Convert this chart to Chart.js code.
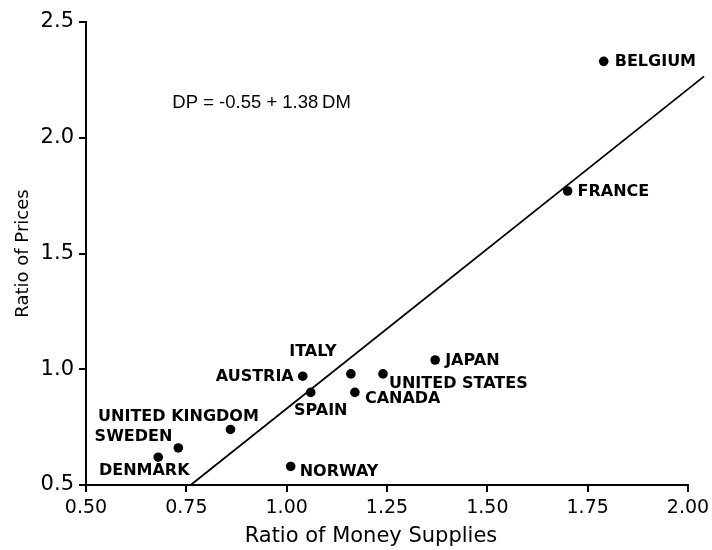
<!DOCTYPE html>
<html>
<head>
<meta charset="utf-8">
<script src="https://cdn.jsdelivr.net/npm/chart.js@4"></script>
<style>
  html, body { margin: 0; padding: 0; background: #fff; }
</style>
</head>
<body>
<canvas id="chart" width="712" height="550"></canvas>
<script>
// Values
const countries = ["BELGIUM", "FRANCE", "JAPAN", "UNITED STATES", "ITALY", "CANADA",
  "AUSTRIA", "SPAIN", "UNITED KINGDOM", "SWEDEN", "DENMARK", "NORWAY"];
const moneyRatio = [1.79, 1.70, 1.37, 1.24, 1.16, 1.17, 1.04, 1.06, 0.86, 0.73, 0.68, 1.01];
const priceRatio = [2.33, 1.77, 1.04, 0.98, 0.98, 0.90, 0.97, 0.90, 0.74, 0.66, 0.62, 0.58];

// Fitted line: DP = -0.55 + 1.38 DM
const fitIntercept = -0.55;
const fitSlope = 1.38;
const fitRange = [0.76, 2.04];

const xTicks = [0.5, 0.75, 1.0, 1.25, 1.5, 1.75, 2.0];
const yTicks = [0.5, 1.0, 1.5, 2.0, 2.5];
const xTitle = "Ratio of Money Supplies";
const yTitle = "Ratio of Prices";

// label placement next to each dot: [dx, dy, align]
const labelPos = {
  "BELGIUM": [11, 0, "left"],
  "FRANCE": [10, 1, "left"],
  "JAPAN": [10, 1, "left"],
  "UNITED STATES": [6, 10, "left"],
  "ITALY": [-38, -22, "center"],
  "CANADA": [10, 6, "left"],
  "AUSTRIA": [-9, 1, "right"],
  "SPAIN": [10, 18, "center"],
  "UNITED KINGDOM": [-52, -13, "center"],
  "SWEDEN": [-6, -11, "right"],
  "DENMARK": [-14, 14, "center"],
  "NORWAY": [9, 5, "left"],
};

const labelPlugin = {
  id: "countryLabels",
  afterDatasetsDraw(chart) {
    const { ctx, scales: { x, y } } = chart;
    ctx.save();
    ctx.fillStyle = "#000";
    ctx.textBaseline = "middle";
    ctx.font = 'bold 16px "DejaVu Sans"';
    countries.forEach((name, i) => {
      const [dx, dy, align] = labelPos[name];
      ctx.textAlign = align;
      ctx.fillText(name, x.getPixelForValue(moneyRatio[i]) + dx, y.getPixelForValue(priceRatio[i]) + dy);
    });
    // equation of the fitted line
    ctx.font = '18.5px "Liberation Sans"';
    ctx.textAlign = "left";
    const eq = `DP = ${fitIntercept.toFixed(2)} + ${fitSlope.toFixed(2)}\u2009DM`;
    ctx.fillText(eq, x.getPixelForValue(0.715), y.getPixelForValue(2.15));
    // x axis title (sits a little left of centre in the original)
    ctx.font = '21px "DejaVu Sans"';
    ctx.textAlign = "center";
    ctx.fillText(xTitle, x.getPixelForValue(1.21), 537);
    ctx.restore();
  },
};

const ctx = document.getElementById("chart").getContext("2d");
new Chart(ctx, {
  type: "scatter",
  data: {
    datasets: [
      {
        data: moneyRatio.map((v, i) => ({ x: v, y: priceRatio[i] })),
        backgroundColor: "#000",
        borderWidth: 0,
        pointRadius: 4.8,
      },
      {
        type: "line",
        data: fitRange.map((v) => ({ x: v, y: fitIntercept + fitSlope * v })),
        borderColor: "#000",
        borderWidth: 1.8,
        pointRadius: 0,
        tension: 0,
        clip: false,
      },
    ],
  },
  options: {
    responsive: false,
    animation: false,
    layout: { padding: { top: 22, right: 24, left: 0, bottom: 0 } },
    plugins: { legend: { display: false }, tooltip: { enabled: false } },
    scales: {
      x: {
        type: "linear",
        min: 0.5,
        max: 2.0,
        afterBuildTicks: (s) => { s.ticks = xTicks.map((v) => ({ value: v })); },
        afterFit: (s) => { s.height = 65; s.paddingLeft = 0; s.paddingRight = 0; },
        ticks: { color: "#000", font: { family: "DejaVu Sans", size: 19 }, padding: 5, maxRotation: 0, callback: (v) => v.toFixed(2) },
        grid: { drawOnChartArea: false, tickLength: 7, color: "#000", lineWidth: 2 },
        border: { color: "#000", width: 2 },
      },
      y: {
        type: "linear",
        min: 0.5,
        max: 2.5,
        afterBuildTicks: (s) => { s.ticks = yTicks.map((v) => ({ value: v })); },
        afterFit: (s) => { s.width = 86; },
        ticks: { color: "#000", font: { family: "DejaVu Sans", size: 21 }, padding: 5, callback: (v) => v.toFixed(1) },
        grid: { drawOnChartArea: false, tickLength: 7, color: "#000", lineWidth: 2 },
        border: { color: "#000", width: 2 },
        title: {
          display: true,
          text: yTitle,
          color: "#000",
          font: { family: "DejaVu Sans", size: 18 },
          padding: { top: 13, bottom: 0 },
        },
      },
    },
  },
  plugins: [labelPlugin],
});
</script>
</body>
</html>
